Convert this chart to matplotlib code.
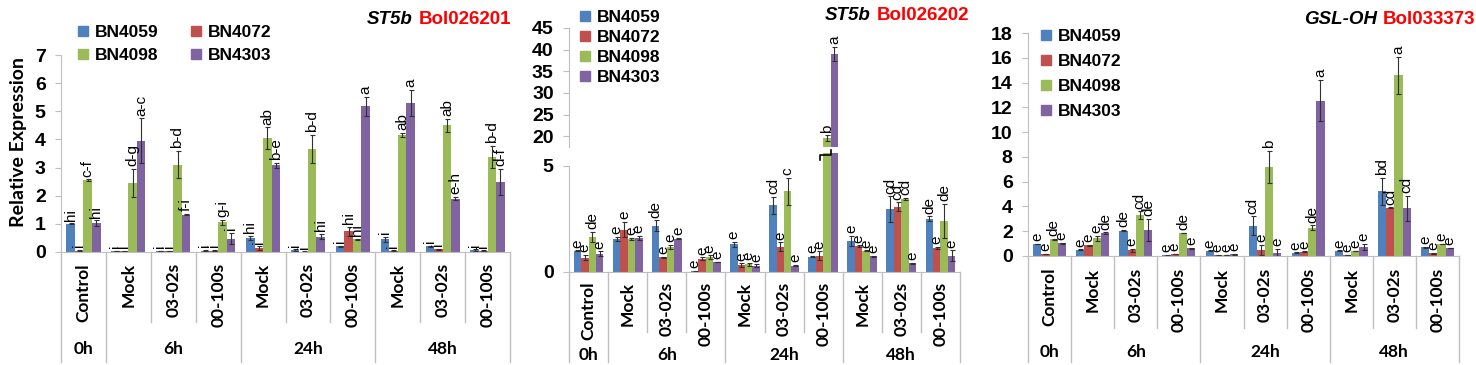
import numpy as np
import matplotlib.pyplot as plt
from matplotlib.transforms import blended_transform_factory
from matplotlib.patches import Patch

W, H = 1476, 365

treatments = ['Control', 'Mock', '03-02s', '00-100s', 'Mock', '03-02s', '00-100s',
              'Mock', '03-02s', '00-100s']
times = ['0h', '6h', '24h', '48h']
time_centers = [0, 2, 5, 8]
long_dividers = [0, 1, 4, 7, 10]
genotypes = ['BN4059', 'BN4072', 'BN4098', 'BN4303']
colors = ['#4F81BD', '#C0504D', '#9BBB59', '#8064A2']

# ST5b Bol026201
p1_vals = [[1.0, 0.03, 0.03, 0.05, 0.5, 0.07, 0.2, 0.45, 0.2, 0.07],
           [0.05, 0.02, 0.03, 0.05, 0.13, 0.01, 0.73, 0.05, 0.1, 0.05],
           [2.55, 2.45, 3.1, 1.05, 4.05, 3.65, 0.45, 4.15, 4.5, 3.38],
           [1.02, 3.95, 1.33, 0.47, 3.08, 0.55, 5.18, 5.3, 1.9, 2.48]]
p1_errs = [[0.02, 0.01, 0.01, 0.02, 0.08, 0.02, 0.03, 0.1, 0.02, 0.02],
           [0.02, 0.01, 0.01, 0.02, 0.07, 0.01, 0.17, 0.01, 0.02, 0.01],
           [0.03, 0.5, 0.48, 0.1, 0.38, 0.5, 0.02, 0.08, 0.23, 0.38],
           [0.1, 0.8, 0.02, 0.2, 0.08, 0.1, 0.33, 0.47, 0.06, 0.47]]
p1_letters = [['hi', 'i', 'i', 'i', 'hi', 'i', 'i', 'i', 'i', 'i'],
              ['i', 'i', 'i', 'i', 'i', 'i', 'hi', 'i', 'i', 'i'],
              ['c-f', 'd-g', 'b-d', 'g-i', 'ab', 'b-d', 'hi', 'ab', 'ab', 'b-d'],
              ['hi', 'a-c', 'f-i', 'i', 'b-e', 'hi', 'a', 'a', 'e-h', 'd-f']]

# ST5b Bol026202
p2_vals = [[1.0, 1.57, 2.18, 0.03, 1.3, 3.13, 0.72, 1.46, 2.96, 2.5],
           [0.68, 2.0, 0.69, 0.63, 0.33, 1.19, 0.77, 1.21, 3.08, 1.12],
           [1.64, 1.54, 1.19, 0.7, 0.36, 3.79, 19.5, 1.0, 3.44, 2.42],
           [0.85, 1.6, 1.57, 0.46, 0.3, 0.3, 39.0, 0.74, 0.41, 0.77]]
p2_errs = [[0.02, 0.1, 0.25, 0.01, 0.1, 0.4, 0.02, 0.25, 0.6, 0.12],
           [0.12, 0.35, 0.03, 0.06, 0.08, 0.2, 0.2, 0.04, 0.2, 0.05],
           [0.25, 0.05, 0.1, 0.08, 0.08, 0.65, 0.7, 0.02, 0.06, 0.8],
           [0.12, 0.1, 0.03, 0.01, 0.06, 0.02, 1.7, 0.03, 0.02, 0.25]]
p2_letters = [['e', 'e', 'de', 'e', 'e', 'cd', 'e', 'e', 'cd', 'de'],
              ['e', 'e', 'e', 'e', 'e', 'e', 'e', 'e', 'cd', 'e'],
              ['de', 'e', 'e', 'e', 'e', 'c', 'b', 'e', 'cd', 'de'],
              ['e', 'e', 'e', 'e', 'e', 'e', 'a', 'e', 'e', 'e']]

# GSL-OH Bol033373
p3_vals = [[0.95, 0.5, 2.05, 0.05, 0.43, 2.45, 0.27, 0.43, 5.23, 0.7],
           [0.15, 0.85, 0.45, 0.18, 0.05, 0.49, 0.35, 0.1, 3.9, 0.22],
           [1.35, 1.45, 3.3, 1.85, 0.07, 7.2, 2.27, 0.4, 14.58, 0.97],
           [1.03, 1.85, 2.1, 0.62, 0.13, 0.27, 12.55, 0.7, 3.85, 0.65]]
p3_errs = [[0.02, 0.03, 0.03, 0.01, 0.03, 0.75, 0.03, 0.03, 1.1, 0.03],
           [0.02, 0.03, 0.1, 0.02, 0.01, 0.4, 0.03, 0.02, 0.02, 0.02],
           [0.03, 0.2, 0.3, 0.03, 0.01, 1.3, 0.2, 0.03, 1.5, 0.03],
           [0.05, 0.05, 0.9, 0.03, 0.02, 0.3, 1.65, 0.25, 1.0, 0.03]]
p3_letters = [['e', 'e', 'de', 'e', 'e', 'cd', 'e', 'e', 'bd', 'e'],
              ['e', 'e', 'e', 'e', 'e', 'e', 'e', 'e', 'cd', 'e'],
              ['de', 'e', 'cd', 'de', 'e', 'b', 'de', 'e', 'a', 'e'],
              ['e', 'de', 'de', 'e', 'e', 'e', 'a', 'e', 'cd', 'e']]

plt.rcParams['font.family'] = ['Liberation Sans', 'DejaVu Sans']
width = 0.19
x = np.arange(len(treatments))
axis_grey = '#BFBFBF'

fig = plt.figure(figsize=(W / 100, H / 100), dpi=100)


def px_axes(left, right, top, bottom):
    return fig.add_axes([left / W, 1 - bottom / H, (right - left) / W, (bottom - top) / H])


def style_axes(ax, ticks):
    for s in ['top', 'right']:
        ax.spines[s].set_visible(False)
    ax.spines['left'].set_color(axis_grey)
    ax.spines['bottom'].set_color(axis_grey)
    ax.set_yticks(ticks, labels=[str(t) for t in ticks], fontsize=14, fontweight='bold')
    ax.tick_params(axis='y', length=4, color=axis_grey, pad=7)
    ax.tick_params(axis='x', length=0, labelbottom=False)
    ax.set_xlim(-0.5, len(treatments) - 0.5)


def draw_bars(ax, vals, errs, letters, show_max=None, show_min=None):
    for k in range(4):
        xs = x + (k - 1.5) * width
        ax.bar(xs, vals[k], width, color=colors[k], yerr=errs[k], capsize=1.8,
               error_kw=dict(elinewidth=0.8, capthick=0.8, ecolor='#303030'))
        for xi, v, e, t in zip(xs, vals[k], errs[k], letters[k]):
            if show_max is not None and v > show_max:
                continue
            if show_min is not None and v < show_min:
                continue
            ax.annotate(t, (xi, v + e), xytext=(0, 2), textcoords='offset points',
                        rotation=90, ha='center', va='bottom', fontsize=11)


def draw_categories(ax, label_top, short_end, long_end, group_y):
    tr = blended_transform_factory(ax.transData, fig.transFigure)
    y0 = ax.get_ylim()[0]
    base = ax.transData.transform((0, y0))[1] / fig.dpi / (H / 100)
    for b in range(len(treatments) + 1):
        end = long_end if b in long_dividers else short_end
        ax.plot([b - 0.5, b - 0.5], [base, 1 - end / H], color=axis_grey, lw=1,
                transform=tr, clip_on=False)
    for i, t in enumerate(treatments):
        ax.text(i, 1 - label_top / H, t, transform=tr, rotation=90, ha='center', va='top',
                fontsize=12.5, fontweight='bold', family='Lato')
    for c, t in zip(time_centers, times):
        ax.text(c, 1 - group_y / H, t, transform=tr, ha='center', va='center',
                fontsize=12.5, fontweight='bold', family='Lato')


def title(x_split, y, black, red):
    fig.text((x_split - 3) / W, 1 - y / H, black, ha='right', va='center', fontsize=13.5,
             fontweight='bold', fontstyle='italic', color='black')
    fig.text((x_split + 3) / W, 1 - y / H, red, ha='left', va='center', fontsize=13.5,
             fontweight='bold', color='red')


handles = [Patch(color=c) for c in colors]
leg_kw = dict(frameon=False, handlelength=0.55, handleheight=0.55, handletextpad=0.4,
              borderpad=0, borderaxespad=0, prop=dict(weight='bold', size=12.5))

# panel 1
ax1 = px_axes(61, 510, 55, 252)
draw_bars(ax1, p1_vals, p1_errs, p1_letters)
ax1.set_ylim(0, 7)
style_axes(ax1, list(range(0, 8)))
draw_categories(ax1, 263, 322, 362, 349)
fig.text(19 / W, 1 - 142 / H, 'Relative Expression', rotation=90, ha='center', va='center',
         fontsize=14, fontweight='bold', family='Lato')
order = [0, 2, 1, 3]
fig.legend([handles[i] for i in order], [genotypes[i] for i in order], loc='upper left',
           bbox_to_anchor=(78 / W, 1 - 25 / H), ncol=2, labelspacing=0.47,
           columnspacing=1.9, **leg_kw)
title(416, 20, 'ST5b', 'Bol026201')

# panel 2 (broken axis)
ax2 = px_axes(569, 960, 153, 272)
draw_bars(ax2, p2_vals, p2_errs, p2_letters, show_max=5.6)
ax2.set_ylim(0, 5.6)
style_axes(ax2, [0, 5])
ax2.spines['left'].set_bounds(0, 5)
draw_categories(ax2, 282, 332, 362, 355)
ax2.plot([5.93, 5.93, 6.2, 6.2], [5.25, 5.5, 5.5, 5.75], color='black', lw=1.2,
         clip_on=False)

ax2u = px_axes(569, 960, 28, 147)
draw_bars(ax2u, p2_vals, p2_errs, p2_letters, show_min=17.5)
ax2u.set_ylim(17.5, 45)
style_axes(ax2u, list(range(20, 50, 5)))
ax2u.spines['bottom'].set_visible(False)
fig.legend(handles, genotypes, loc='upper left', bbox_to_anchor=(580 / W, 1 - 10 / H),
           ncol=1, labelspacing=0.29, **leg_kw)
title(874, 15, 'ST5b', 'Bol026202')

# panel 3
ax3 = px_axes(1028, 1459, 33, 256)
draw_bars(ax3, p3_vals, p3_errs, p3_letters)
ax3.set_ylim(0, 18)
style_axes(ax3, list(range(0, 20, 2)))
draw_categories(ax3, 268, 328, 362, 352)
fig.legend(handles, genotypes, loc='upper left', bbox_to_anchor=(1041 / W, 1 - 29 / H),
           ncol=1, labelspacing=0.58, **leg_kw)
title(1380, 20, 'GSL-OH', 'Bol033373')

fig.savefig('out.png', dpi=100)
